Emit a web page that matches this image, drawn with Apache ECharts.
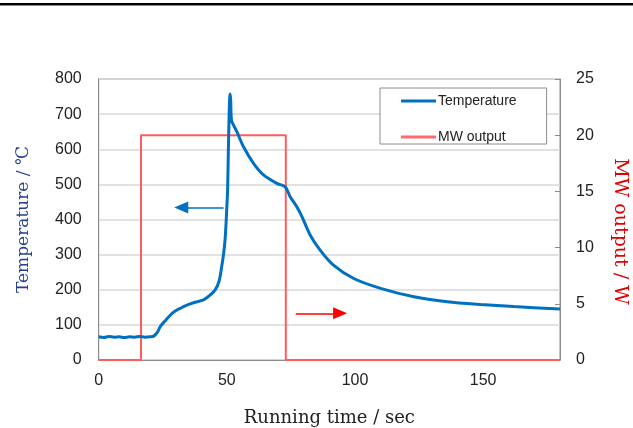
<!DOCTYPE html>
<html>
<head>
<meta charset="utf-8">
<script src="https://cdn.jsdelivr.net/npm/echarts@6/dist/echarts.min.js"></script>
<style>html,body{margin:0;padding:0;background:#fff}#c{width:633px;height:428px}</style>
</head>
<body>
<div id="c"></div>
<script>
// Temperature curve (time in s, temperature in °C)
var timeSec = [0, 2, 4, 6, 8, 10, 12, 14, 16, 18, 20, 21.5, 23, 24, 26, 28, 30, 31.8, 34, 37, 40.9, 43, 45.4, 47, 48, 48.7, 49.3, 49.7, 50.0, 50.3, 50.6, 50.9, 51.1, 51.3, 51.5, 51.8, 52.6, 53.9, 56.5, 60.4, 64.3, 69.5, 72.8, 74.7, 77.3, 79.3, 82.5, 86.4, 91.6, 99.5, 110, 123, 136, 149, 162, 180];
var temperature = [66, 64, 67, 65, 66, 64, 66, 65, 67, 65, 66, 68, 80, 95, 112, 128, 140, 147, 155, 163, 171, 182, 199, 225, 266, 300, 342, 390, 436, 484, 600, 700, 745, 757, 740, 683, 669, 650, 607, 560, 527, 503, 493, 465, 436, 408, 356, 313, 270, 232, 204, 180, 166, 158, 152, 145];
// MW output (step function)
var mwTime = [0, 16.5, 16.5, 73, 73, 180];
var mwPower = [0, 0, 20, 20, 0, 0];
var seriesNames = ['Temperature', 'MW output'];
var xTicks = [0, 50, 100, 150];

var chart = echarts.init(document.getElementById('c'), null, {renderer: 'canvas'});
var tempData = timeSec.map(function (t, i) { return [t, temperature[i]]; });
var mwData = mwTime.map(function (t, i) { return [t, mwPower[i]]; });
var labelFont = 'Liberation Sans';
var serif = 'DejaVu Serif';

chart.setOption({
  animation: false,
  backgroundColor: '#fff',
  graphic: [
    {type: 'rect', shape: {x: 0, y: 3, width: 633, height: 2}, style: {fill: '#000'}},
    {type: 'rect', shape: {x: 0, y: 5, width: 633, height: 1}, style: {fill: '#8a8a8a'}}
  ],
  grid: {left: 98.7, right: 73, top: 79, bottom: 68, show: true, borderColor: '#8c8c8c', borderWidth: 1, outerBoundsMode: 'none', containLabel: false},
  legend: {
    orient: 'vertical',
    left: 380, top: 88,
    padding: [6, 30, 0, 21],
    itemGap: 22,
    itemWidth: 35, itemHeight: 3,
    backgroundColor: '#fff',
    borderColor: '#8c8c8c', borderWidth: 1, borderRadius: 0,
    textStyle: {fontFamily: labelFont, fontSize: 14, color: '#222', padding: [0, 0, 0, -3]},
    data: [
      {name: seriesNames[0], icon: 'rect', itemStyle: {color: '#0070c0'}},
      {name: seriesNames[1], icon: 'rect', itemStyle: {color: '#ff6a6a'}}
    ]
  },
  xAxis: {
    type: 'value', min: 0, max: 180, interval: 50,
    name: 'Running time / sec', nameLocation: 'middle', nameGap: 49,
    nameTextStyle: {fontFamily: serif, fontSize: 18, color: '#222'},
    axisLine: {show: true, lineStyle: {color: '#8c8c8c', width: 1}},
    axisTick: {show: false},
    splitLine: {show: false},
    axisLabel: {
      fontFamily: labelFont, fontSize: 16, color: '#222', margin: 13,
      customValues: xTicks,
      formatter: function (v) { return xTicks.indexOf(v) >= 0 ? String(v) : ''; }
    }
  },
  yAxis: [
    {
      type: 'value', min: 0, max: 800, interval: 100,
      name: 'Temperature / ℃', nameLocation: 'middle', nameGap: 67,
      nameTextStyle: {fontFamily: serif, fontSize: 17, color: '#243f8f'},
      axisLine: {show: true, lineStyle: {color: '#8c8c8c', width: 1}},
      axisTick: {show: false},
      splitLine: {show: true, lineStyle: {color: '#d9d9d9', width: 1.5}},
      axisLabel: {fontFamily: labelFont, fontSize: 16, color: '#222', margin: 17}
    },
    {
      type: 'value', min: 0, max: 25, interval: 5, position: 'right',
      name: 'MW output / W', nameLocation: 'middle', nameGap: 50, nameRotate: -90,
      nameTextStyle: {fontFamily: serif, fontSize: 19, color: '#e00000', padding: [0, 0, 0, 24]},
      axisLine: {show: true, lineStyle: {color: '#8c8c8c', width: 1}},
      axisTick: {show: true, inside: true, length: 5, lineStyle: {color: '#8c8c8c'}},
      splitLine: {show: false},
      axisLabel: {fontFamily: labelFont, fontSize: 16, color: '#222', margin: 16}
    }
  ],
  series: [
    {
      name: seriesNames[1], type: 'line', yAxisIndex: 1, data: mwData,
      showSymbol: false, symbol: 'none',
      lineStyle: {color: '#ff5c5c', width: 2},
      itemStyle: {color: '#ff6a6a'},
      z: 2,
      markLine: {
        silent: true, symbol: ['none', 'triangle'], symbolSize: [12, 14],
        label: {show: false},
        lineStyle: {color: '#ff0000', width: 1.5, type: 'solid'},
        data: [[{coord: [76.9, 4.15]}, {coord: [94.2, 4.15]}]]
      }
    },
    {
      name: seriesNames[0], type: 'line', yAxisIndex: 0, data: tempData,
      showSymbol: false, symbol: 'none', smooth: 0.3,
      lineStyle: {color: '#0070c0', width: 3},
      itemStyle: {color: '#0070c0'},
      z: 3,
      markLine: {
        silent: true, symbol: ['none', 'triangle'], symbolSize: [12, 14],
        label: {show: false},
        lineStyle: {color: '#0070c0', width: 1.5, type: 'solid'},
        data: [[{coord: [48.7, 434]}, {coord: [32.2, 434]}]]
      }
    }
  ]
});
</script>
</body>
</html>
